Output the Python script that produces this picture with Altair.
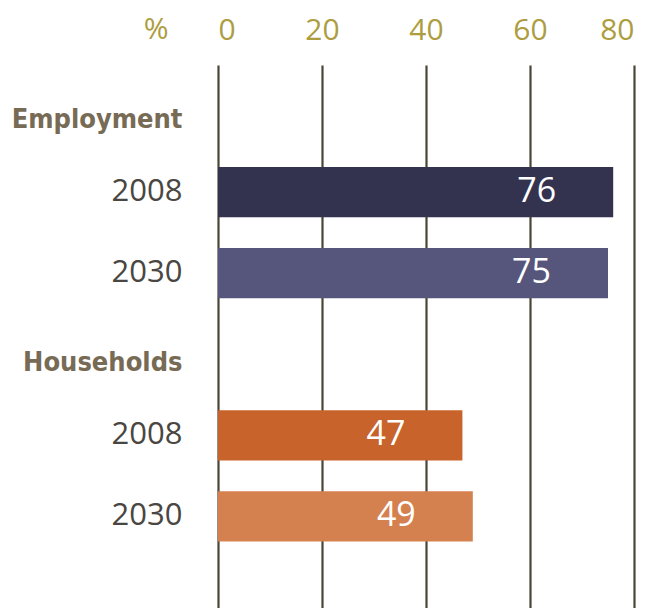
import altair as alt
import pandas as pd

groups = ["Employment", "Employment", "Households", "Households"]
years = ["2008", "2030", "2008", "2030"]
values = [76, 75, 47, 49]
bar_colors = ["#34334f", "#56557b", "#c8632b", "#d5814f"]
headers = ["Employment", "Households"]
x_ticks = [0, 20, 40, 60, 80]

rows = [f"{g}|{y}" for g, y in zip(groups, years)]
domain = []
for h in headers:
    domain.append(h)
    domain += [r for r in rows if r.startswith(h)]

df = pd.DataFrame({"row": rows, "value": values, "label": [str(v) for v in values]})

is_header = "indexof(datum.value,'|')<0"

y_enc = alt.Y(
    "row:N",
    scale=alt.Scale(domain=domain, paddingInner=0.38, paddingOuter=0.54, align=0.24),
    axis=alt.Axis(
        title=None, domain=False, ticks=False, labelPadding=36,
        labelExpr="indexof(datum.value,'|')>=0 ? split(datum.value,'|')[1] : datum.value",
        labelFont={"condition": {"test": is_header, "value": "DejaVu Sans Condensed"}, "value": "Open Sans"},
        labelFontWeight={"condition": {"test": is_header, "value": "bold"}, "value": "normal"},
        labelFontSize={"condition": {"test": is_header, "value": 27}, "value": 31},
        labelColor={"condition": {"test": is_header, "value": "#776b55"}, "value": "#4a4641"},
        labelOffset={"condition": {"test": is_header, "value": 9}, "value": 0},
    ),
)

x_enc = alt.X(
    "value:Q",
    scale=alt.Scale(domain=[0, 80], nice=False),
    axis=alt.Axis(
        orient="top", values=x_ticks, domain=False, ticks=False,
        grid=True, gridColor="#4a4538", gridWidth=2.2, gridOpacity=1,
        labelFont="Open Sans", labelFontSize=30, labelColor="#ad9d3f", labelPadding=20,
        title="%", titleFont="Open Sans", titleFontSize=30, titleFontWeight="normal",
        titleColor="#ad9d3f", titleX=-50, titleY=-36, titleAlign="right", titleBaseline="middle",
    ),
)

bars = alt.Chart(df).mark_bar().encode(
    x=x_enc,
    y=y_enc,
    color=alt.Color("row:N", scale=alt.Scale(domain=rows, range=bar_colors), legend=None),
)

text = alt.Chart(df).mark_text(
    align="right", baseline="middle", dx=-57, dy=0, color="white",
    font="Open Sans", fontSize=34
).encode(x="value:Q", y=alt.Y("row:N"), text="label:N")

chart = (bars + text).properties(
    width=416, height=543,
    autosize=alt.AutoSizeParams(type="none"),
    padding={"left": 218, "top": 65, "right": 25, "bottom": 0},
).configure(background="white", view={"stroke": None})

chart.save("out.html", embed_options={"renderer": "svg", "actions": False})
